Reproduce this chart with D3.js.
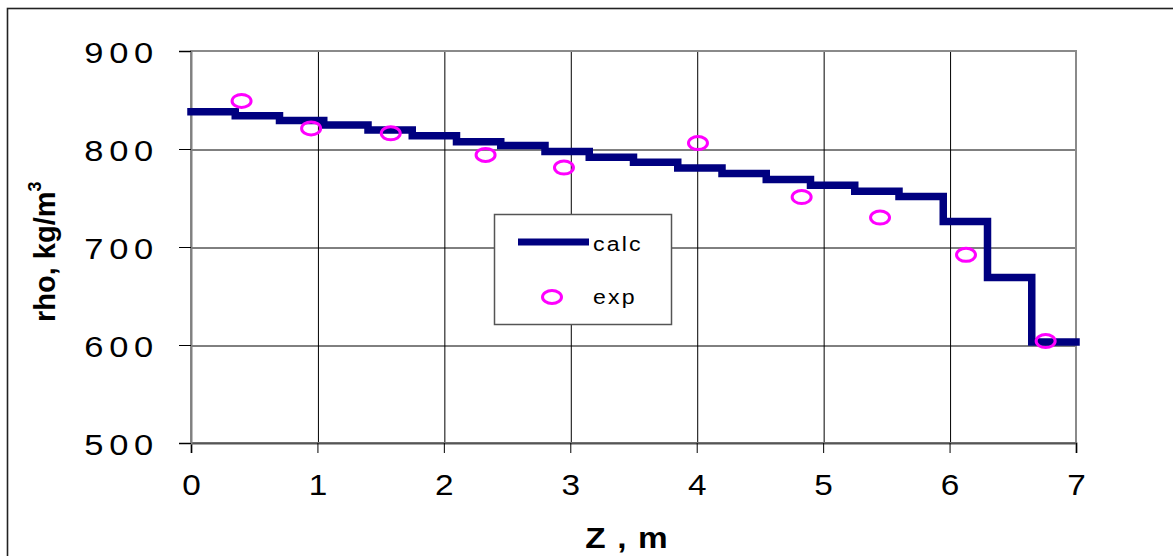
<!DOCTYPE html>
<html>
<head>
<meta charset="utf-8">
<script src="https://cdn.jsdelivr.net/npm/d3@7"></script>
<style>
  html, body { margin: 0; padding: 0; background: #fff; }
  svg { display: block; }
  text { font-family: "Liberation Sans", Arial, sans-serif; fill: #000; }
</style>
</head>
<body>
<svg id="chart" width="1173" height="556"></svg>
<script>
// Calculated density: piecewise-constant over 0.35 m cells
const zEdges = [0, 0.35, 0.7, 1.05, 1.4, 1.75, 2.1, 2.45, 2.8, 3.15, 3.5,
                3.85, 4.2, 4.55, 4.9, 5.25, 5.6, 5.95, 6.3, 6.65, 7.0];
const rhoCalc = [838, 834, 829, 824.5, 819.5, 813.5, 807.5, 803.5, 797.5, 791.5,
                 786.5, 780.5, 775, 769, 763, 757, 751.5, 726, 669, 603];

// Measured density
const zExp = [0.40, 0.95, 1.58, 2.33, 2.95, 4.01, 4.83, 5.45, 6.13, 6.76];
const rhoExp = [849, 821, 816, 794, 781, 806, 751, 730, 692, 604];

const xTicks = [0, 1, 2, 3, 4, 5, 6, 7];
const yTicks = [500, 600, 700, 800, 900];

const xTitle = "Z , m";
const yTitle = "rho, kg/m";
const yTitleSup = "3";
const legendNames = ["calc", "exp"];

const svg = d3.select("#chart");
const W = 1173, H = 556;
const plot = { left: 191, right: 1076, top: 51, bottom: 443 };

const x = d3.scaleLinear().domain([0, 7]).range([plot.left, plot.right]);
const y = d3.scaleLinear().domain([500, 900]).range([plot.bottom, plot.top]);

svg.append("rect").attr("width", W).attr("height", H).attr("fill", "#fff");

// outer frame
svg.append("rect")
  .attr("x", 7.5).attr("y", 8.5).attr("width", W + 10).attr("height", H + 10)
  .attr("fill", "none").attr("stroke", "#222").attr("stroke-width", 1.6);

// gridlines
svg.append("g")
  .attr("transform", `translate(0,${plot.bottom})`)
  .call(d3.axisBottom(x).tickValues(xTicks.slice(1, -1)).tickSize(-(plot.bottom - plot.top)).tickFormat(""))
  .call(g => g.select(".domain").remove())
  .call(g => g.selectAll("line").attr("stroke", "#000").attr("stroke-width", 1)
    .attr("transform", "translate(0.5,0)"));
svg.append("g")
  .attr("transform", `translate(${plot.left},0)`)
  .call(d3.axisLeft(y).tickValues(yTicks.slice(1, -1)).tickSize(-(plot.right - plot.left)).tickFormat(""))
  .call(g => g.select(".domain").remove())
  .call(g => g.selectAll("line").attr("stroke", "#000").attr("stroke-width", 1)
    .attr("transform", "translate(0,0.5)"));

// plot-area border
svg.append("rect")
  .attr("x", plot.left).attr("y", plot.top)
  .attr("width", plot.right - plot.left).attr("height", plot.bottom - plot.top)
  .attr("fill", "none").attr("stroke", "#8a8a8a").attr("stroke-width", 2);

// x axis
const gx = svg.append("g")
  .attr("transform", `translate(0,${plot.bottom})`)
  .call(d3.axisBottom(x).tickValues(xTicks).tickSize(10).tickFormat(d3.format("d")));
gx.select(".domain").attr("stroke", "#555").attr("stroke-width", 2);
gx.selectAll(".tick line").attr("stroke", "#000");
gx.selectAll(".tick text")
  .attr("y", 0).attr("dy", 0)
  .attr("transform", "translate(0,52) scale(1.15,1)")
  .style("font-size", "29px").attr("fill", "#000");

// y axis
const gy = svg.append("g")
  .attr("transform", `translate(${plot.left},0)`)
  .call(d3.axisLeft(y).tickValues(yTicks).tickSize(12).tickFormat(d3.format("d")));
gy.select(".domain").attr("stroke", "#808080").attr("stroke-width", 2);
gy.selectAll(".tick line").attr("stroke", "#000");
gy.selectAll(".tick text")
  .attr("x", 0).attr("dy", "0.37em")
  .attr("transform", "translate(-32,0) scale(1.15,1)")
  .style("font-size", "30px").style("letter-spacing", "5px").attr("fill", "#000");

// axis titles
svg.append("text")
  .attr("transform", "translate(627,548) scale(1.15,1)")
  .attr("text-anchor", "middle")
  .style("font-size", "29px").style("font-weight", "bold").style("letter-spacing", "1px")
  .text(xTitle);

const yt = svg.append("text")
  .attr("transform", "translate(55,322) rotate(-90)")
  .attr("text-anchor", "start")
  .style("font-size", "29px").style("font-weight", "bold");
yt.append("tspan").text(yTitle);
yt.append("tspan").attr("dy", -14).style("font-size", "18px").text(yTitleSup);

// calculated step line
const stepPts = zEdges.map((z, i) => [z, i < rhoCalc.length ? rhoCalc[i] : rhoCalc[rhoCalc.length - 1]]);
const line = d3.line()
  .x(d => x(d[0])).y(d => y(d[1]))
  .curve(d3.curveStepAfter);
svg.append("path")
  .datum(stepPts)
  .attr("d", line)
  .attr("fill", "none")
  .attr("stroke", "#000080")
  .attr("stroke-width", 7.5)
  .attr("stroke-linejoin", "miter")
  .attr("stroke-linecap", "square");

// measured points
svg.append("g").selectAll("ellipse")
  .data(zExp.map((z, i) => [z, rhoExp[i]]))
  .join("ellipse")
  .attr("cx", d => x(d[0])).attr("cy", d => y(d[1]))
  .attr("rx", 9.5).attr("ry", 6.5)
  .attr("fill", "none").attr("stroke", "#ff00ff").attr("stroke-width", 3);

// legend
const lg = svg.append("g");
lg.append("rect")
  .attr("x", 494.5).attr("y", 214.5).attr("width", 177).attr("height", 110)
  .attr("fill", "#fff").attr("stroke", "#555").attr("stroke-width", 1.5);
lg.append("line")
  .attr("x1", 518).attr("x2", 589).attr("y1", 242).attr("y2", 242)
  .attr("stroke", "#000080").attr("stroke-width", 7);
lg.append("ellipse")
  .attr("cx", 552).attr("cy", 297).attr("rx", 9.5).attr("ry", 6.5)
  .attr("fill", "none").attr("stroke", "#ff00ff").attr("stroke-width", 3);
lg.selectAll("text.leg")
  .data(legendNames)
  .join("text")
  .attr("class", "leg")
  .attr("transform", (d, i) => `translate(593,${i === 0 ? 251 : 304}) scale(1.1,1)`)
  .style("font-size", "21px").style("letter-spacing", "2px")
  .text(d => d);
</script>
</body>
</html>
